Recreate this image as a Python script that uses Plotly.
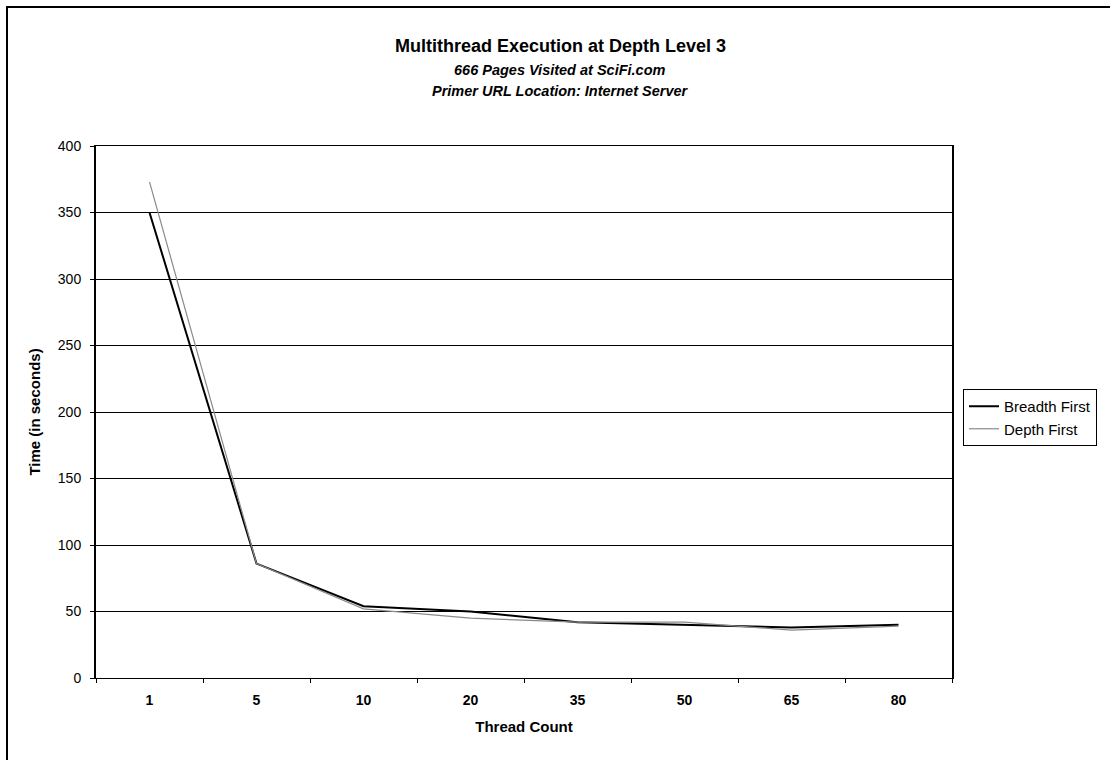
import plotly.graph_objects as go

threads = ["1", "5", "10", "20", "35", "50", "65", "80"]
breadth_first = [350, 86, 54, 50, 42, 40, 38, 40]
depth_first = [373, 86, 52, 45, 42, 42, 36, 39]
y_ticks = [0, 50, 100, 150, 200, 250, 300, 350, 400]

FONT = "Liberation Sans, Arial, sans-serif"

fig = go.Figure()
fig.add_trace(go.Scatter(x=threads, y=breadth_first, mode="lines", name="Breadth First",
                         line=dict(color="black", width=2)))
fig.add_trace(go.Scatter(x=threads, y=depth_first, mode="lines", name="Depth First",
                         line=dict(color="#8a8a8a", width=1.2)))

L, R, T, B = 96, 952, 146, 678
W = R - L
H = B - T

def px(x):
    return (x - L) / W

def py(y):
    return (B - y) / H

fig.update_layout(
    width=1110, height=760,
    margin=dict(l=L, r=1110 - R, t=T, b=760 - B, pad=0),
    paper_bgcolor="white", plot_bgcolor="white",
    font=dict(family=FONT, size=14, color="black"),
    showlegend=True,
    legend=dict(x=px(963), y=py(389), xanchor="left", yanchor="top",
                bordercolor="black", borderwidth=1, bgcolor="white",
                font=dict(size=15), tracegroupgap=0, itemwidth=30),
    xaxis=dict(type="category", categoryorder="array", categoryarray=threads,
               range=[-0.5, len(threads) - 0.5],
               showgrid=False, showline=True, linecolor="black", linewidth=1,
               mirror=True, ticks="outside", ticklen=4, tickcolor="black",
               tickson="boundaries", ticklabelstandoff=9,
               tickfont=dict(size=14, family=FONT, weight="bold"),
               title=dict(text="<b>Thread Count</b>", font=dict(size=15), standoff=14),
               zeroline=False),
    yaxis=dict(range=[0, 400], tickvals=y_ticks, showgrid=True, gridcolor="black",
               gridwidth=1, showline=True, linecolor="black", linewidth=2, mirror=True,
               ticks="outside", ticklen=4, tickcolor="black", ticklabelstandoff=6,
               tickfont=dict(size=14),
               title=dict(text="<b>Time (in seconds)</b>", font=dict(size=15), standoff=14),
               zeroline=False),
    annotations=[
        dict(text="<b>Multithread Execution at Depth Level 3</b>", xref="paper", yref="paper",
             x=px(560), y=py(46), xanchor="center", yanchor="middle", showarrow=False,
             font=dict(size=18)),
        dict(text="<b><i>666 Pages Visited at SciFi.com</i></b>", xref="paper", yref="paper",
             x=px(560), y=py(70), xanchor="center", yanchor="middle", showarrow=False,
             font=dict(size=14.5)),
        dict(text="<b><i>Primer URL Location: Internet Server</i></b>", xref="paper", yref="paper",
             x=px(560), y=py(91), xanchor="center", yanchor="middle", showarrow=False,
             font=dict(size=14.5)),
    ],
    shapes=[
        dict(type="rect", xref="paper", yref="paper", x0=px(7), x1=px(1115), y0=py(765), y1=py(7),
             line=dict(color="black", width=2), fillcolor="rgba(0,0,0,0)", layer="below"),
    ],
)

fig.write_html("out.html")
